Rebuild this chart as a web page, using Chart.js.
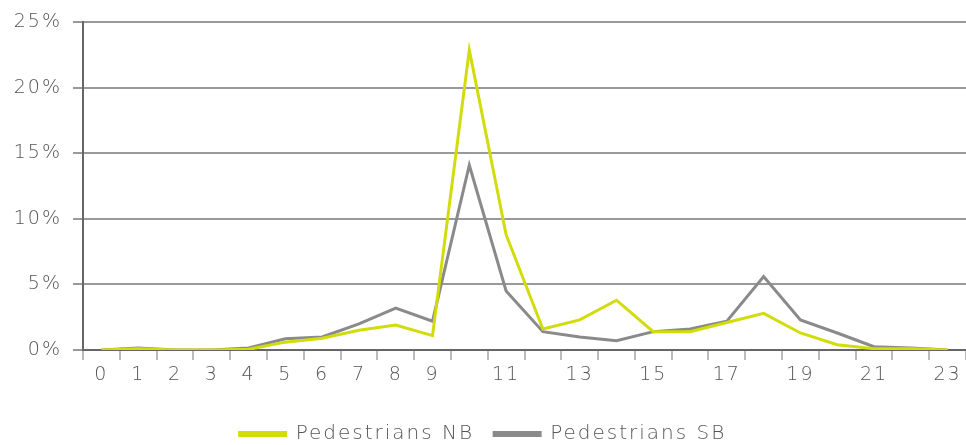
<!DOCTYPE html>
<html>
<head>
<meta charset="utf-8">
<script src="https://cdn.jsdelivr.net/npm/chart.js@4"></script>
<style>
    html, body { margin: 0; padding: 0; background: #fff; }
    #wrap { width: 966px; height: 445px; }
</style>
</head>
<body>
<div id="wrap"><canvas id="lineChart" width="966" height="445"></canvas></div>
<script>
const hours = ['0','1','2','3','4','5','6','7','8','9','10','11','12','13','14','15','16','17','18','19','20','21','22','23'];
const shownHours = ['0','1','2','3','4','5','6','7','8','9','11','13','15','17','19','21','23'];
const pedestriansNB = [0, 0.1, 0, 0, 0.05, 0.6, 0.9, 1.5, 1.9, 1.1, 22.9, 8.8, 1.6, 2.3, 3.8, 1.4, 1.4, 2.1, 2.8, 1.3, 0.4, 0.1, 0.1, 0];
const pedestriansSB = [0, 0.15, 0, 0, 0.15, 0.85, 1.0, 2.0, 3.2, 2.2, 14.1, 4.5, 1.4, 1.0, 0.7, 1.4, 1.6, 2.2, 5.6, 2.3, 1.3, 0.25, 0.15, 0];
const yTicks = [0, 5, 10, 15, 20, 25];

const fontFamily = "'DejaVu Sans', sans-serif";
const textColor = '#555';

// the original lettering is widely spaced
const spacingPlugin = {
    id: 'spacing',
    beforeUpdate: function (chart) { chart.ctx.letterSpacing = '2px'; },
    beforeDraw: function (chart) { chart.ctx.letterSpacing = '2px'; }
};

let ctx = document.getElementById('lineChart').getContext('2d');

new Chart(ctx, {
    type: 'line',
    data: {
        labels: hours,
        datasets: [{
            label: 'Pedestrians NB',
            data: pedestriansNB,
            borderColor: '#d2dc0a',
            backgroundColor: '#d2dc0a',
            borderWidth: 3,
            pointRadius: 0,
            tension: 0
        }, {
            label: 'Pedestrians SB',
            data: pedestriansSB,
            borderColor: '#8a8a8a',
            backgroundColor: '#8a8a8a',
            borderWidth: 3,
            pointRadius: 0,
            tension: 0
        }]
    },
    plugins: [spacingPlugin],
    options: {
        responsive: false,
        animation: false,
        layout: { padding: { top: 5, right: 0, left: 0, bottom: -9 } },
        plugins: {
            tooltip: { enabled: false },
            legend: {
                position: 'bottom',
                labels: {
                    boxWidth: 46,
                    boxHeight: 3,
                    padding: 20,
                    color: textColor,
                    font: { family: fontFamily, size: 20, weight: 200 }
                }
            }
        },
        scales: {
            x: {
                offset: true,
                grid: {
                    offset: true,
                    drawOnChartArea: false,
                    tickLength: 10,
                    color: '#bbb',
                    lineWidth: 2
                },
                border: { color: '#666', width: 2 },
                ticks: {
                    autoSkip: false,
                    maxRotation: 0,
                    padding: 4,
                    color: textColor,
                    font: { family: fontFamily, size: 19, weight: 200 },
                    callback: function (value) {
                        const label = hours[value];
                        return shownHours.includes(label) ? label : '';
                    }
                },
                afterFit: function (scale) { scale.height = 54; }
            },
            y: {
                min: 0,
                max: 25,
                afterBuildTicks: function (scale) {
                    scale.ticks = yTicks.map(v => ({ value: v }));
                },
                grid: {
                    tickLength: 10,
                    color: '#999',
                    lineWidth: 2
                },
                border: { color: '#666', width: 2 },
                ticks: {
                    padding: 11,
                    color: textColor,
                    font: { family: fontFamily, size: 19, weight: 200 },
                    callback: function (value) { return value + '%'; }
                },
                afterFit: function (scale) { scale.width = 83; }
            }
        }
    }
});
</script>
</body>
</html>
